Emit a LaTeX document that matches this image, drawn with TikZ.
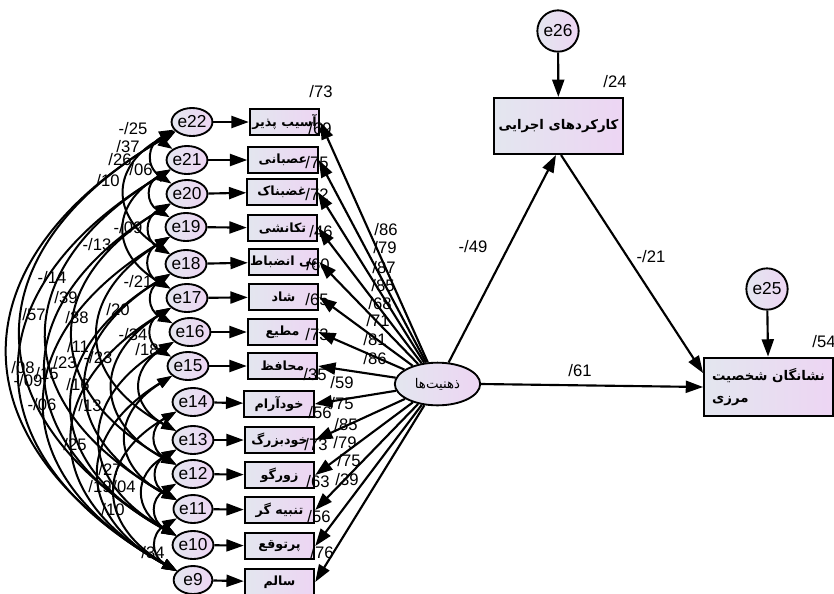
\documentclass[tikz,border=0pt]{standalone}
\usepackage{fontspec}
\setmainfont{Liberation Sans}
\newfontfamily\farsi[Script=Arabic]{DejaVu Sans}
\TeXXeTstate=1
\usetikzlibrary{positioning,arrows.meta,shapes.geometric,backgrounds}
\definecolor{shadeL}{HTML}{E3E6EF}
\definecolor{shadeR}{HTML}{EDD5F3}
\newcommand{\fa}[1]{{\farsi\beginR #1\endR}}

\tikzset{
  obs/.style={draw, line width=1.6pt, left color=shadeL, right color=shadeR,
    minimum width=52pt, minimum height=19.5pt, inner sep=0pt,
    font=\fontsize{9.5}{10}\selectfont\bfseries},
  bigobs/.style={obs, minimum width=96.5pt, font=\fontsize{10}{11}\selectfont\bfseries},
  err/.style={ellipse, draw, line width=1.4pt, left color=shadeL, right color=shadeR,
    minimum width=29pt, minimum height=21pt, inner sep=0pt,
    font=\fontsize{13}{14}\selectfont},
  rerr/.style={err, circle, minimum size=31pt},
  reg/.style={line width=1.6pt, -{Triangle[length=13pt,width=9pt]}},
  cov/.style={line width=1.5pt, {Triangle[length=11pt,width=7.5pt]}-{Triangle[length=11pt,width=7.5pt]}},
  num/.style={inner sep=0pt, font=\fontsize{12.5}{14}\selectfont}
}

\begin{document}
\begin{tikzpicture}[x=0.75pt,y=-0.75pt]
  \useasboundingbox (0,0) rectangle (834,593);

  % error terms
  \node[err] (e22) at (192,122) {e22};
  \node[err] (e21) at (187,160) {e21};
  \node[err] (e20) at (187,194) {e20};
  \node[err] (e19) at (186,227) {e19};
  \node[err] (e18) at (186,264) {e18};
  \node[err] (e17) at (187,298) {e17};
  \node[err] (e16) at (190,332) {e16};
  \node[err] (e15) at (188,366) {e15};
  \node[err] (e14) at (193,402) {e14};
  \node[err] (e13) at (193,440) {e13};
  \node[err] (e12) at (193,474) {e12};
  \node[err] (e11) at (193,509) {e11};
  \node[err] (e10) at (193,545) {e10};
  \node[err] (e9) at (193,580) {e9};

  % modes
  \node[obs] (m1) at (284.5,122) {\fa{آسیب پذیر}};
  \node[obs] (m2) at (283,160) {\fa{عصبانی}};
  \node[obs] (m3) at (282,192) {\fa{غضبناک}};
  \node[obs] (m4) at (282.5,228) {\fa{تکانشی}};
  \node[obs] (m5) at (283.5,262) {\fa{بی انضباط}};
  \node[obs] (m6) at (283.5,297) {\fa{شاد}};
  \node[obs] (m7) at (282.5,332) {\fa{مطیع}};
  \node[obs] (m8) at (282.5,366) {\fa{محافظ}};
  \node[obs] (m9) at (279,404) {\fa{خودآرام}};
  \node[obs] (m10) at (279.5,440) {\fa{خودبزرگ}};
  \node[obs] (m11) at (279.5,475) {\fa{زورگو}};
  \node[obs] (m12) at (279.5,510) {\fa{تنبیه گر}};
  \node[obs] (m13) at (279.5,546) {\fa{پرتوقع}};
  \node[obs] (m14) at (279.5,582) {\fa{سالم}};

  \node[err, minimum width=64pt, minimum height=32pt, font=\fontsize{10}{11}\selectfont] (lat) at (437.5,384) {\fa{ذهنیت‌ها}};

  \node[bigobs, minimum height=42pt] (ef) at (558.5,126) {\fa{کارکردهای اجرایی}};
  \node[bigobs, minimum height=44pt, align=left] (bpd) at (768.5,387) {\fa{نشانگان شخصیت}\\[5pt]\fa{مرزی}};
  \node[rerr] (e26) at (558,31) {e26};
  \node[rerr] (e25) at (767,289) {e25};

  % paths
  \draw[reg] (e22) -- (m1);
  \draw[reg] (e21) -- (m2);
  \draw[reg] (e20) -- (m3);
  \draw[reg] (e19) -- (m4);
  \draw[reg] (e18) -- (m5);
  \draw[reg] (e17) -- (m6);
  \draw[reg] (e16) -- (m7);
  \draw[reg] (e15) -- (m8);
  \draw[reg] (e14) -- (m9);
  \draw[reg] (e13) -- (m10);
  \draw[reg] (e12) -- (m11);
  \draw[reg] (e11) -- (m12);
  \draw[reg] (e10) -- (m13);
  \draw[reg] (e9) -- (m14);

  \draw[reg] (lat) -- (m1.east);
  \draw[reg] (lat) -- (m2.east);
  \draw[reg] (lat) -- (m3.east);
  \draw[reg] (lat) -- (m4.east);
  \draw[reg] (lat) -- (m5.east);
  \draw[reg] (lat) -- (m6.east);
  \draw[reg] (lat) -- (m7.east);
  \draw[reg] (lat) -- (m8.east);
  \draw[reg] (lat) -- (m9.east);
  \draw[reg] (lat) -- (m10.east);
  \draw[reg] (lat) -- (m11.east);
  \draw[reg] (lat) -- (m12.east);
  \draw[reg] (lat) -- (m13.east);
  \draw[reg] (lat) -- (m14.east);

  \draw[reg] (e26) -- (ef);
  \draw[reg] (e25) -- (bpd);
  \draw[reg] (lat) -- (ef.-95);
  \draw[reg] (ef.-85) -- (bpd.168);
  \draw[reg] (lat.east) -- (bpd.west);

  % covariances
  \begin{scope}[on background layer, bend right=60, looseness=1.5]
    \draw[cov] (e22) to (e9);
    \draw[cov] (e22) to (e10);
    \draw[cov] (e21) to (e9);
    \draw[cov] (e21) to (e11);
    \draw[cov] (e20) to (e10);
    \draw[cov] (e20) to (e12);
    \draw[cov] (e19) to (e9);
    \draw[cov] (e19) to (e13);
    \draw[cov] (e18) to (e11);
    \draw[cov] (e18) to (e10);
    \draw[cov] (e17) to (e12);
    \draw[cov] (e17) to (e9);
    \draw[cov] (e16) to (e13);
    \draw[cov] (e16) to (e10);
    \draw[cov] (e15) to (e11);
    \draw[cov] (e15) to (e9);
    \draw[cov] (e22) to (e21);
    \draw[cov] (e22) to (e20);
    \draw[cov] (e21) to (e19);
    \draw[cov] (e22) to (e18);
    \draw[cov] (e20) to (e18);
    \draw[cov] (e19) to (e17);
    \draw[cov] (e18) to (e16);
    \draw[cov] (e17) to (e15);
    \draw[cov] (e21) to (e17);
    \draw[cov] (e14) to (e12);
    \draw[cov] (e13) to (e11);
    \draw[cov] (e12) to (e10);
    \draw[cov] (e14) to (e9);
    \draw[cov] (e11) to (e9);
    \draw[cov] (e13) to (e10);
  \end{scope}

  % loadings
  \node[num] (l1) at (386,230) {/86};
  \node[num] (l2) at (385,248) {/79};
  \node[num] (l3) at (384,268) {/87};
  \node[num] (l4) at (383,286) {/85};
  \node[num] (l5) at (380,304) {/68};
  \node[num] (l6) at (378,321) {/71};
  \node[num] (l7) at (375,340) {/81};
  \node[num] (l8) at (375,359) {/86};
  \node[num] (l9) at (342,383) {/59};
  \node[num] (l10) at (342,404) {/75};
  \node[num] (l11) at (346,425) {/85};
  \node[num] (l12) at (345,443) {/79};
  \node[num] (l13) at (349,461) {/75};
  \node[num] (l14) at (347,480) {/39};

  % squared multiple correlations
  \node[num] (r0) at (321,92) {/73};
  \node[num] (r1) at (320,129) {/69};
  \node[num] (r2) at (317,163) {/75};
  \node[num] (r3) at (317,195) {/72};
  \node[num] (r4) at (321,232) {/46};
  \node[num] (r5) at (318,265) {/60};
  \node[num] (r6) at (317,300) {/65};
  \node[num] (r7) at (317,335) {/73};
  \node[num] (r8) at (315,375) {/35};
  \node[num] (r9) at (320,413) {/56};
  \node[num] (r10) at (316,445) {/73};
  \node[num] (r11) at (318,482) {/63};
  \node[num] (r12) at (319,517) {/56};
  \node[num] (r13) at (322,553) {/76};
  \node[num] (r14) at (615,82) {/24};
  \node[num] (r15) at (824,342) {/54};

  \node[num] (p1) at (473,247) {-/49};
  \node[num] (p2) at (651,257) {-/21};
  \node[num] (p3) at (580,371) {/61};

  % covariance labels
  \node[num] (c1) at (133,129) {-/25};
  \node[num] (c2) at (128,147) {/37};
  \node[num] (c3) at (120,160) {/26};
  \node[num] (c4) at (141,170) {/06};
  \node[num] (c5) at (108,181) {/10};
  \node[num] (c6) at (128,228) {-/09};
  \node[num] (c7) at (97,245) {-/13};
  \node[num] (c8) at (52,278) {-/14};
  \node[num] (c9) at (66,298) {/39};
  \node[num] (c10) at (34,315) {/57};
  \node[num] (c11) at (77,318) {/38};
  \node[num] (c12) at (118,310) {/20};
  \node[num] (c13) at (138,282) {-/21};
  \node[num] (c14) at (133,335) {-/34};
  \node[num] (c15) at (147,350) {/18};
  \node[num] (c16) at (78,347) {/11};
  \node[num] (c17) at (98,358) {-/23};
  \node[num] (c18) at (23,368) {/08};
  \node[num] (c19) at (65,363) {/23};
  \node[num] (c20) at (47,374) {/15};
  \node[num] (c21) at (28,381) {-/09};
  \node[num] (c22) at (78,385) {/16};
  \node[num] (c23) at (42,405) {-/06};
  \node[num] (c24) at (90,406) {/13};
  \node[num] (c25) at (75,445) {/25};
  \node[num] (c26) at (110,470) {/27};
  \node[num] (c27) at (100,487) {/19};
  \node[num] (c28) at (124,487) {/04};
  \node[num] (c29) at (113,510) {/10};
  \node[num] (c30) at (153,553) {/34};
\end{tikzpicture}
\end{document}
